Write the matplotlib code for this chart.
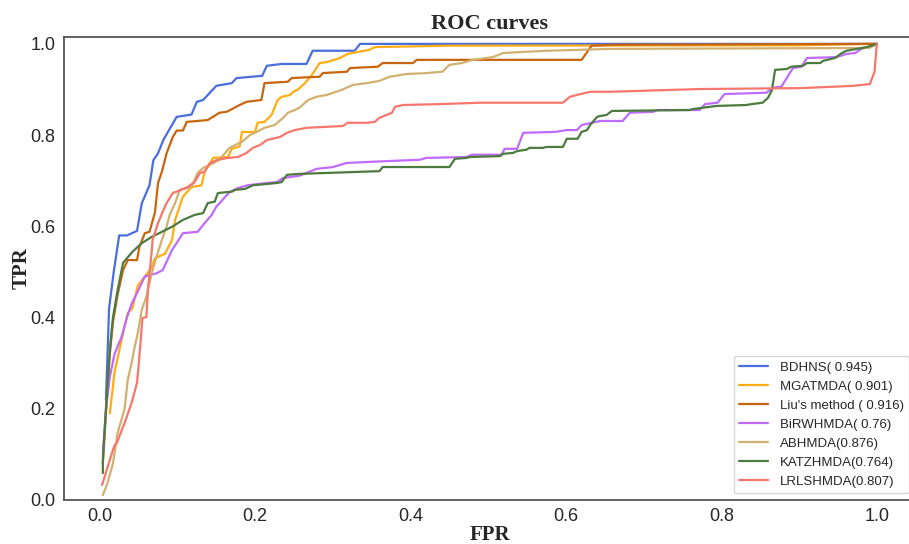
import numpy as np
import matplotlib
matplotlib.use("Agg")
import matplotlib.pyplot as plt
import seaborn as sns

# ROC points (FPR, TPR)
bdhns_fpr = [0.008, 0.012, 0.018, 0.025, 0.035, 0.048, 0.054, 0.064, 0.069, 0.075, 0.082, 0.099,
             0.118, 0.125, 0.133, 0.150, 0.170, 0.176, 0.209, 0.215, 0.234, 0.266, 0.274, 0.328,
             0.335, 1.0]
bdhns_tpr = [0.22, 0.42, 0.50, 0.58, 0.58, 0.59, 0.65, 0.69, 0.745, 0.76, 0.79, 0.84,
             0.845, 0.873, 0.877, 0.908, 0.914, 0.925, 0.93, 0.952, 0.956, 0.956, 0.985, 0.985,
             1.0, 1.0]

mgat_fpr = [0.013, 0.019, 0.028, 0.036, 0.042, 0.049, 0.058, 0.067, 0.071, 0.084, 0.093, 0.097,
            0.107, 0.118, 0.131, 0.135, 0.146, 0.165, 0.170, 0.180, 0.183, 0.200, 0.203, 0.212,
            0.221, 0.229, 0.234, 0.245, 0.249, 0.255, 0.264, 0.273, 0.283, 0.292, 0.309, 0.319,
            0.331, 0.347, 0.354, 0.446, 0.90, 0.99, 1.0]
mgat_tpr = [0.19, 0.28, 0.35, 0.41, 0.42, 0.47, 0.49, 0.51, 0.53, 0.54, 0.57, 0.614,
            0.665, 0.686, 0.69, 0.72, 0.75, 0.752, 0.77, 0.775, 0.807, 0.807, 0.827, 0.829,
            0.844, 0.877, 0.884, 0.888, 0.895, 0.90, 0.914, 0.932, 0.958, 0.96, 0.969, 0.978,
            0.982, 0.987, 0.993, 0.996, 0.997, 1.0, 1.0]

liu_fpr = [0.004, 0.009, 0.013, 0.017, 0.023, 0.030, 0.036, 0.048, 0.051, 0.058, 0.064, 0.071,
           0.075, 0.080, 0.086, 0.094, 0.099, 0.107, 0.112, 0.139, 0.154, 0.163, 0.170, 0.180,
           0.189, 0.208, 0.212, 0.242, 0.247, 0.283, 0.287, 0.318, 0.322, 0.358, 0.364, 0.403,
           0.408, 0.620, 0.633, 0.66, 1.0]
liu_tpr = [0.08, 0.22, 0.32, 0.39, 0.45, 0.504, 0.526, 0.526, 0.555, 0.585, 0.588, 0.63,
           0.695, 0.72, 0.76, 0.796, 0.81, 0.81, 0.829, 0.833, 0.849, 0.851, 0.857, 0.866,
           0.873, 0.877, 0.914, 0.917, 0.925, 0.928, 0.936, 0.939, 0.947, 0.95, 0.958, 0.958,
           0.965, 0.965, 0.996, 0.998, 1.0]

birw_fpr = [0.004, 0.008, 0.013, 0.019, 0.028, 0.035, 0.041, 0.048, 0.058, 0.073, 0.081, 0.093,
            0.100, 0.107, 0.126, 0.133, 0.144, 0.150, 0.158, 0.167, 0.178, 0.190, 0.215, 0.228,
            0.236, 0.257, 0.279, 0.300, 0.318, 0.343, 0.412, 0.420, 0.472, 0.479, 0.517, 0.521,
            0.537, 0.545, 0.586, 0.601, 0.614, 0.620, 0.644, 0.673, 0.682, 0.712, 0.717, 0.772,
            0.779, 0.795, 0.804, 0.858, 0.866, 0.877, 0.892, 0.903, 0.910, 0.948, 0.961, 0.972,
            0.980, 0.995, 1.0]
birw_tpr = [0.10, 0.20, 0.27, 0.32, 0.357, 0.40, 0.43, 0.454, 0.49, 0.497, 0.504, 0.548,
            0.566, 0.585, 0.588, 0.603, 0.625, 0.643, 0.658, 0.675, 0.684, 0.69, 0.695, 0.697,
            0.706, 0.711, 0.726, 0.73, 0.739, 0.741, 0.746, 0.75, 0.752, 0.757, 0.757, 0.77,
            0.77, 0.805, 0.807, 0.811, 0.811, 0.822, 0.831, 0.831, 0.849, 0.851, 0.855, 0.855,
            0.868, 0.871, 0.89, 0.893, 0.904, 0.906, 0.947, 0.95, 0.969, 0.971, 0.978, 0.98,
            0.989, 0.996, 1.0]

abh_fpr = [0.004, 0.010, 0.017, 0.023, 0.032, 0.036, 0.041, 0.045, 0.049, 0.054, 0.060, 0.064,
           0.068, 0.073, 0.080, 0.086, 0.090, 0.097, 0.103, 0.112, 0.118, 0.126, 0.133, 0.142,
           0.154, 0.167, 0.174, 0.183, 0.193, 0.202, 0.212, 0.225, 0.236, 0.242, 0.251, 0.257,
           0.268, 0.279, 0.292, 0.311, 0.326, 0.344, 0.360, 0.373, 0.395, 0.421, 0.441, 0.450,
           0.466, 0.480, 0.506, 0.519, 0.541, 0.575, 0.618, 0.656, 0.99, 1.0]
abh_tpr = [0.011, 0.037, 0.08, 0.147, 0.20, 0.263, 0.30, 0.336, 0.366, 0.417, 0.445, 0.476,
           0.504, 0.533, 0.57, 0.60, 0.625, 0.651, 0.68, 0.684, 0.686, 0.717, 0.728, 0.735,
           0.746, 0.772, 0.778, 0.785, 0.80, 0.807, 0.816, 0.822, 0.838, 0.849, 0.855, 0.86,
           0.877, 0.884, 0.888, 0.899, 0.91, 0.914, 0.919, 0.928, 0.934, 0.936, 0.939, 0.954,
           0.958, 0.965, 0.971, 0.98, 0.982, 0.985, 0.987, 0.989, 0.991, 1.0]

katz_fpr = [0.004, 0.004, 0.009, 0.013, 0.017, 0.023, 0.030, 0.035, 0.042, 0.054, 0.067, 0.080,
            0.093, 0.107, 0.122, 0.133, 0.139, 0.148, 0.152, 0.170, 0.174, 0.187, 0.197, 0.228,
            0.234, 0.241, 0.257, 0.360, 0.364, 0.450, 0.457, 0.472, 0.476, 0.515, 0.519, 0.532,
            0.537, 0.549, 0.553, 0.570, 0.575, 0.596, 0.601, 0.615, 0.620, 0.627, 0.631, 0.640,
            0.644, 0.652, 0.659, 0.759, 0.763, 0.776, 0.794, 0.832, 0.839, 0.853, 0.860, 0.865,
            0.869, 0.884, 0.890, 0.905, 0.910, 0.927, 0.931, 0.946, 0.955, 0.961, 0.974, 0.987,
            1.0]
katz_tpr = [0.059, 0.088, 0.226, 0.33, 0.40, 0.46, 0.52, 0.53, 0.544, 0.563, 0.577, 0.588,
            0.599, 0.614, 0.625, 0.629, 0.651, 0.654, 0.673, 0.676, 0.68, 0.682, 0.69, 0.695,
            0.697, 0.713, 0.715, 0.721, 0.73, 0.73, 0.748, 0.75, 0.752, 0.754, 0.759, 0.761,
            0.765, 0.768, 0.772, 0.772, 0.774, 0.774, 0.792, 0.792, 0.807, 0.811, 0.822, 0.84,
            0.842, 0.844, 0.853, 0.855, 0.857, 0.86, 0.864, 0.866, 0.868, 0.871, 0.882, 0.899,
            0.943, 0.945, 0.95, 0.952, 0.958, 0.958, 0.963, 0.969, 0.98, 0.985, 0.989, 0.993,
            1.0]

lrls_fpr = [0.003, 0.009, 0.015, 0.019, 0.022, 0.032, 0.041, 0.048, 0.051, 0.055, 0.060, 0.062,
            0.067, 0.068, 0.075, 0.081, 0.086, 0.094, 0.105, 0.113, 0.122, 0.129, 0.135, 0.142,
            0.152, 0.165, 0.178, 0.189, 0.197, 0.206, 0.215, 0.232, 0.241, 0.251, 0.266, 0.313,
            0.319, 0.344, 0.354, 0.360, 0.369, 0.376, 0.380, 0.390, 0.438, 0.489, 0.596, 0.605,
            0.614, 0.631, 0.656, 0.772, 0.901, 0.943, 0.969, 0.991, 0.997, 1.0]
lrls_tpr = [0.033, 0.066, 0.099, 0.12, 0.125, 0.169, 0.213, 0.257, 0.314, 0.399, 0.401, 0.46,
            0.548, 0.57, 0.607, 0.632, 0.651, 0.673, 0.68, 0.686, 0.697, 0.717, 0.72, 0.739,
            0.746, 0.75, 0.752, 0.761, 0.772, 0.778, 0.789, 0.796, 0.805, 0.811, 0.816, 0.82,
            0.827, 0.827, 0.829, 0.838, 0.844, 0.849, 0.862, 0.866, 0.868, 0.871, 0.871, 0.884,
            0.888, 0.895, 0.895, 0.901, 0.903, 0.906, 0.908, 0.912, 0.939, 1.0]

labels = ["BDHNS( 0.945)", "MGATMDA( 0.901)", "Liu's method ( 0.916)", "BiRWHMDA( 0.76)",
          "ABHMDA(0.876)", "KATZHMDA(0.764)", "LRLSHMDA(0.807)"]
colors = ["#4a6fdc", "#ffad12", "#c7660f", "#bf6bff", "#d2b06f", "#4d7a3f", "#f7776c"]


def main():
    sns.set_style("white")
    plt.rcParams["font.family"] = ["Liberation Sans", "DejaVu Sans"]

    fig = plt.figure(figsize=(9.09, 5.44), dpi=100)
    ax = fig.add_axes([0.0704, 0.0809, 0.937, 0.851])

    curves = [(bdhns_fpr, bdhns_tpr), (mgat_fpr, mgat_tpr), (liu_fpr, liu_tpr),
              (birw_fpr, birw_tpr), (abh_fpr, abh_tpr), (katz_fpr, katz_tpr),
              (lrls_fpr, lrls_tpr)]
    for (fpr, tpr), lab, col in zip(curves, labels, colors):
        ax.plot(fpr, tpr, color=col, lw=1.6, label=lab)

    ax.set_xlim(-0.046, 1.05)
    ax.set_ylim(0.0, 1.015)
    ax.set_xticks([0.0, 0.2, 0.4, 0.6, 0.8, 1.0])
    ax.set_yticks([0.0, 0.2, 0.4, 0.6, 0.8, 1.0])
    ax.tick_params(labelsize=13, length=0, pad=6)
    for sp in ax.spines.values():
        sp.set_color("#555555")
        sp.set_linewidth(1.3)

    serif = ["Liberation Serif", "DejaVu Serif"]
    ax.set_title("ROC curves", family=serif, fontweight="bold", fontsize=16, pad=6)
    ax.set_xlabel("FPR", family=serif, fontweight="bold", fontsize=15, labelpad=0)
    ax.set_ylabel("TPR", family=serif, fontweight="bold", fontsize=15, labelpad=-1)

    ax.legend(loc="lower right", fontsize=9.5, frameon=True, handlelength=2.2,
              handletextpad=0.9, borderaxespad=0.5, labelspacing=0.52)

    plt.savefig("out.png", dpi=100)


if __name__ == "__main__":
    main()
